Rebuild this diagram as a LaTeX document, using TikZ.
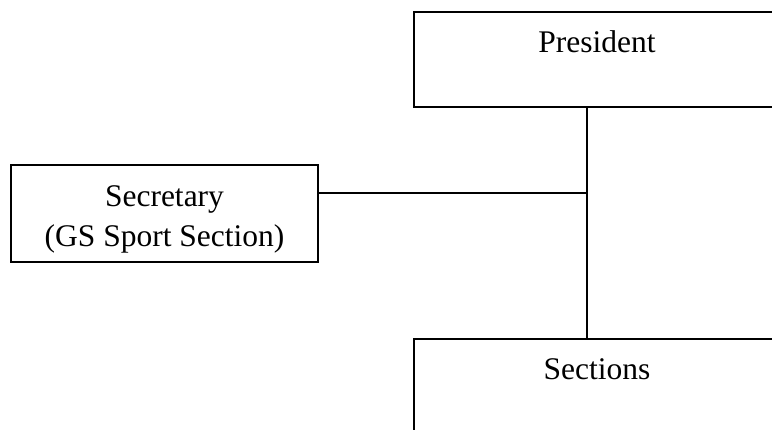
\documentclass[tikz,border=0pt]{standalone}
\usepackage{fontspec}
\setmainfont{Liberation Serif}
\usetikzlibrary{positioning}

\begin{document}
\begin{tikzpicture}[x = 1pt, y = 1pt,
    office/.style = {draw, line width = 1.4pt, rectangle, inner sep = 0pt, font = \fontsize{31.5}{40.5}\selectfont},
    headbox/.style = {office, minimum width = 366pt, minimum height = 95pt, text height = 22pt, text depth = 35pt},
    sidebox/.style = {office, minimum width = 307pt, minimum height = 97pt, align = center},
    link/.style = {line width = 1.4pt}]
    \clip (0,0) rectangle (772,429);
    \node[headbox] (president) at (597,369.5) {President};
    \node[headbox] (sections) at (597,42.5) {Sections};
    \node[sidebox] (secretary) at (164.5,215.5) {\rule{0pt}{33pt}Secretary\\(GS Sport Section)};
    \coordinate (junction) at (587,236);
    \draw[link]
    (president.south -| junction) -- (sections.north -| junction);
    \draw[link]
    (secretary.east |- junction) -- (junction);
\end{tikzpicture}
\end{document}
